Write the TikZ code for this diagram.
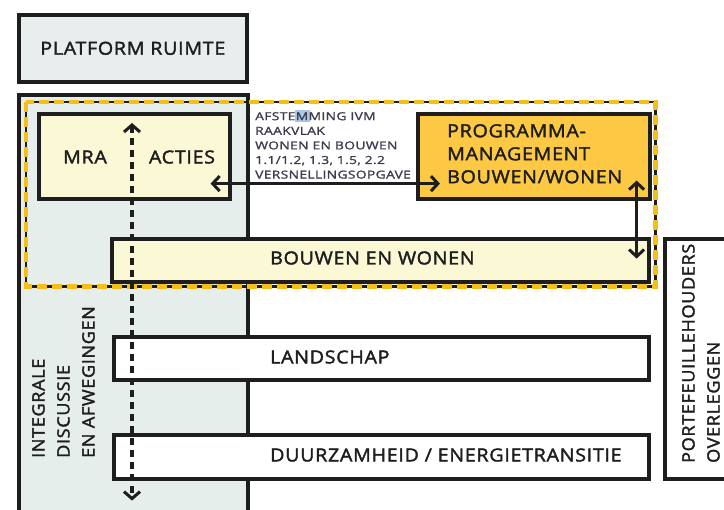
\documentclass[tikz,border=0pt]{standalone}
\usepackage{fontspec}
\setmainfont{Open Sans}
\newfontfamily\labfont{Open Sans}[LetterSpace=4.0, FakeBold=2.0, FakeStretch=1.09]
\newfontfamily\rotfont{Open Sans}[LetterSpace=4.0, FakeBold=2.0, FakeStretch=1.06]
\newfontfamily\smallfont{Open Sans}[LetterSpace=3.0, FakeBold=1.4, FakeStretch=1.26]
\usetikzlibrary{arrows.meta,calc}
\definecolor{edge}{HTML}{1E1E1E}
\definecolor{panel}{HTML}{E6EEEC}
\definecolor{platfill}{HTML}{E8EEEE}
\definecolor{pale}{HTML}{FAF8D5}
\definecolor{gold}{HTML}{FDC944}
\definecolor{dashy}{HTML}{F7BE1A}
\definecolor{smalltxt}{HTML}{3C3C4E}
\definecolor{selblue}{HTML}{A9C8E6}
\begin{document}
\begin{tikzpicture}[x=1pt,y=-1pt,
  box/.style={draw=edge, line width=3.6pt, inner sep=0pt, anchor=north west},
  lbl/.style={font=\labfont\fontsize{18}{25}\selectfont, text=edge, inner sep=0pt},
  rlbl/.style={font=\rotfont\fontsize{17}{25}\selectfont, text=edge, inner sep=0pt, align=left, anchor=north west, rotate=90},
  small/.style={font=\smallfont\fontsize{11}{14.6}\selectfont, text=smalltxt, inner sep=0pt, align=left, anchor=north west},
  chev/.style={line width=3pt, draw=edge, {Straight Barb[length=7pt,width=15pt]}-{Straight Barb[length=7pt,width=15pt]}},
  dotarrow/.style={line width=3.6pt, draw=edge, dash pattern=on 7pt off 5pt, {Straight Barb[length=7pt,width=16pt,line width=3pt]}-{Straight Barb[length=7pt,width=16pt,line width=3pt]}}
]
\useasboundingbox (0,0) rectangle (724,510);
\fill[white] (0,0) rectangle (724,510);

% platform
\node[box, fill=platfill, minimum width=228pt, minimum height=67pt] (plat) at (17,13) {};
\node[lbl] (platlbl) at (plat.center) {PLATFORM RUIMTE};

% left panel
\node[box, fill=panel, minimum width=229pt, minimum height=440pt] (panel) at (17,93) {};

% boxes
\node[box, fill=pale, minimum width=191pt, minimum height=85pt] (mra) at (37,112) {};
\node[box, fill=gold, minimum width=232pt, minimum height=85pt] (prog) at (416,112) {};
\node[box, fill=pale, minimum width=537pt, minimum height=43pt] (bouw) at (110,237) {};
\node[box, fill=white, minimum width=535pt, minimum height=43pt] (land) at (112,335) {};
\node[box, fill=white, minimum width=535pt, minimum height=44pt] (duur) at (112,433) {};
\node[box, fill=white, minimum width=90pt, minimum height=240pt] (port) at (663,237) {};

% labels
\node[lbl] (mralbl) at (85,157) {MRA};
\node[lbl] (acties) at (182,157) {ACTIES};
\node[lbl, anchor=west] (bouwlbl) at (270,258) {BOUWEN EN WONEN};
\node[lbl, anchor=west] (landlbl) at (270,357) {LANDSCHAP};
\node[lbl, anchor=west] (duurlbl) at (270,455) {DUURZAMHEID / ENERGIETRANSITIE};
\node[lbl, align=left, anchor=north west, font=\labfont\fontsize{18}{23}\selectfont] (proglbl) at (447,124) {PROGRAMMA-\\MANAGEMENT\\BOUWEN/WONEN};
\node[rlbl] (integ) at (32,458) {INTEGRALE\\DISCUSSIE\\EN AFWEGINGEN};
\node[rlbl] (portlbl) at (682,463) {PORTEFEUILLEHOUDERS\\OVERLEGGEN};

% small text with selection highlight
\fill[selblue] (295,110) rectangle (310,122);
\node[small] (afst) at (255,112) {AFSTEMMING IVM\\RAAKVLAK\\WONEN EN BOUWEN\\1.1/1.2, 1.3, 1.5, 2.2\\VERSNELLINGSOPGAVE};

% dashed zone
\node[inner sep=0pt, minimum width=629pt, minimum height=184pt, anchor=north west] (zone) at (26,102) {};
\draw[edge, line width=2.6pt, dash pattern=on 5pt off 10pt, dash phase=-10pt] (zone.north west) rectangle (zone.south east);
\draw[dashy, line width=4.5pt, dash pattern=on 10pt off 5pt] (zone.north west) rectangle (zone.south east);

% arrows
\coordinate (hA) at ($(mra.south east)+(-21,-17)$);
\coordinate (hB) at ($(prog.south west)+(24,-17)$);
\draw[chev] (hA) -- (hB);
\coordinate (vA) at ($(prog.south east)+(-15,-20)$);
\coordinate (vB) at ($(bouw.south east)+(-14,-25)$);
\draw[chev] (vA) -- (vB);
\coordinate (dtop) at ($(mra.north west)+(95,11)$);
\coordinate (dbot) at ($(duur.south west)+(20,20)$);
\draw[dotarrow] (dtop) -- (dbot);
\end{tikzpicture}
\end{document}
